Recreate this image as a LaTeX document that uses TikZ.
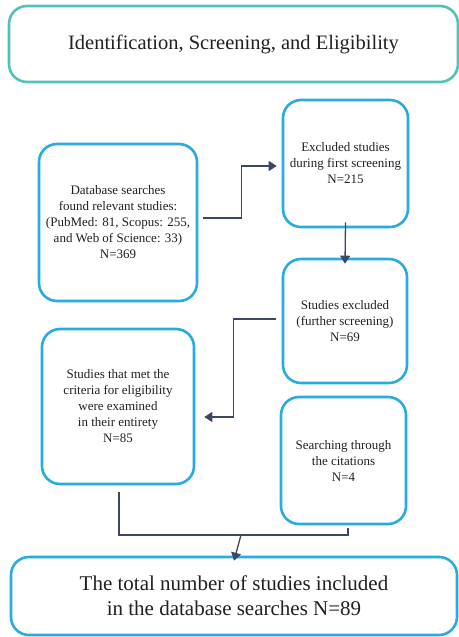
\documentclass[tikz,border=0pt]{standalone}
\usepackage{fontspec}
\setmainfont{Liberation Serif}
\usetikzlibrary{arrows.meta}
\definecolor{teal1}{HTML}{4FC3B8}
\definecolor{blue1}{HTML}{29ABE2}
\definecolor{navy1}{HTML}{3C4763}
\definecolor{txt1}{HTML}{231F20}
\begin{document}
\begin{tikzpicture}[x=1pt,y=-1pt,
  bx/.style={draw=blue1, line width=2.6pt, rounded corners=18pt, align=center, text=txt1, inner sep=2pt, font=\fontsize{13}{16}\selectfont},
  arr/.style={draw=navy1, line width=1.3pt, -{Triangle[width=10pt,length=8pt]}},
  ln/.style={draw=navy1, line width=1.3pt}]
\useasboundingbox (0,0) rectangle (458,637);
\node[bx, draw=teal1, minimum width=449, minimum height=76, font=\fontsize{20.5}{24}\selectfont] (top) at (233.5,44) {Identification, Screening, and Eligibility};
\node[bx, minimum width=158, minimum height=157] (db) at (118,222.5) {Database searches\\found relevant studies:\\(PubMed: 81, Scopus: 255,\\and Web of Science: 33)\\N=369};
\node[bx, minimum width=125, minimum height=127] (ex1) at (345.5,163.5) {Excluded studies\\during first screening\\N=215};
\node[bx, minimum width=124, minimum height=124] (ex2) at (345,321) {Studies excluded\\(further screening)\\N=69};
\node[bx, minimum width=152, minimum height=155] (el) at (118,406.5) {Studies that met the\\criteria for eligibility\\were examined\\in their entirety\\N=85};
\node[bx, minimum width=125, minimum height=127] (ci) at (343.5,460.5) {Searching through\\the citations\\N=4};
\node[bx, minimum width=446, minimum height=78, font=\fontsize{21}{25}\selectfont] (tot) at (234,596) {The total number of studies included\\in the database searches N=89};
\draw[arr] ([shift={(5,-4.5)}]db.east) -- ++(38,0) |- ([shift={(-5,2.5)}]ex1.west);
\draw[arr] ([yshift=6]ex1.south) -- ([yshift=-6]ex2.north);
\draw[arr] ([shift={(-6,-2)}]ex2.west) -- ++(-42,0) |- ([shift={(9,10.5)}]el.east);
\coordinate (j) at (241,535);
\draw[ln] ([shift={(1,7)}]el.south) |- (j) -| ([shift={(4.5,3)}]ci.south);
\draw[arr] (j) -- ([yshift=-5]tot.north);
\end{tikzpicture}
\end{document}
